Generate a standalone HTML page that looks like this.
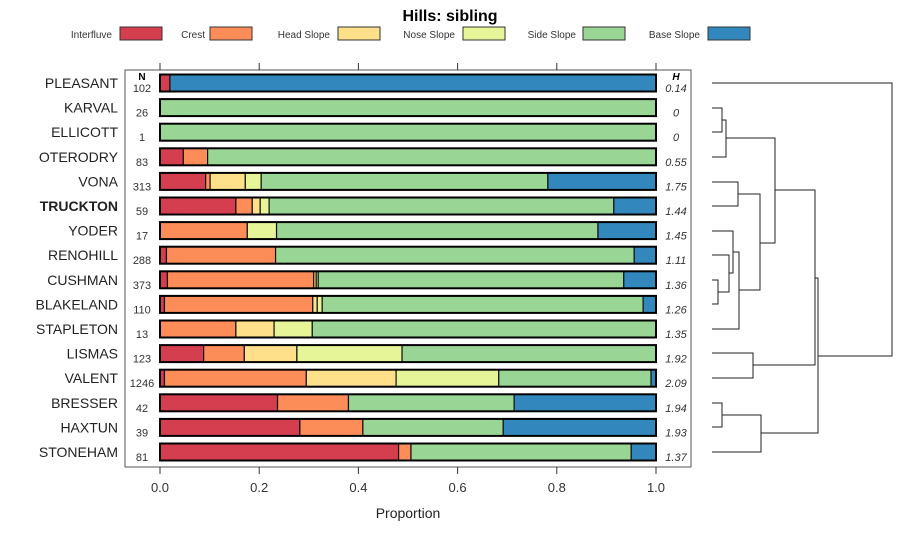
<!DOCTYPE html>
<html><head><meta charset="utf-8"><style>
body{margin:0;background:#fff;}
svg{display:block;font-family:"Liberation Sans",sans-serif;}
</style></head><body>
<svg id="c" width="900" height="540"></svg>
<script>
const classes=["Interfluve","Crest","Head Slope","Nose Slope","Side Slope","Base Slope"];
const colors=["#D53E4F","#FC8D59","#FEE08B","#E6F598","#99D594","#3288BD"];
const sites=["PLEASANT","KARVAL","ELLICOTT","OTERODRY","VONA","TRUCKTON","YODER","RENOHILL","CUSHMAN","BLAKELAND","STAPLETON","LISMAS","VALENT","BRESSER","HAXTUN","STONEHAM"];
const counts=[102,26,1,83,313,59,17,288,373,110,13,123,1246,42,39,81];
const entropy=["0.14","0","0","0.55","1.75","1.44","1.45","1.11","1.36","1.26","1.35","1.92","2.09","1.94","1.93","1.37"];
const props=[
[0.02,0,0,0,0,0.98],
[0,0,0,0,1,0],
[0,0,0,0,1,0],
[0.047,0.049,0,0,0.904,0],
[0.092,0.009,0.071,0.032,0.578,0.218],
[0.153,0.033,0.016,0.018,0.695,0.085],
[0,0.176,0,0.059,0.648,0.117],
[0.013,0.22,0,0,0.723,0.044],
[0.015,0.295,0.005,0.004,0.616,0.065],
[0.009,0.299,0.009,0.01,0.647,0.026],
[0,0.153,0.077,0.077,0.693,0],
[0.088,0.082,0.106,0.212,0.512,0],
[0.009,0.286,0.181,0.207,0.307,0.01],
[0.237,0.143,0,0,0.334,0.286],
[0.282,0.127,0,0,0.283,0.308],
[0.481,0.025,0,0,0.444,0.05]];
const xticks=[0,0.2,0.4,0.6,0.8,1.0];
const NS="http://www.w3.org/2000/svg";
const svg=document.getElementById("c");
function el(t,a,txt){const e=document.createElementNS(NS,t);for(const k in a)e.setAttribute(k,a[k]);if(txt!==undefined)e.textContent=txt;svg.appendChild(e);return e;}
const x=v=>160+v*496;
const y=i=>83+i*24.6;
let e;
e=el("text",{x:450,y:21,"text-anchor":"middle","font-size":16,"font-weight":"bold"},"Hills: sibling");


const lx=[[112,120],[205,210],[330,338],[455,463],[576,583],[700,708]];
classes.forEach((c,k)=>{
 e=el("text",{x:lx[k][0],y:38,"text-anchor":"end","font-size":10,fill:"#333"},c);
 
 
 e=el("rect",{x:lx[k][1],y:27,width:42,height:13,fill:colors[k],stroke:"#333","stroke-width":1});
 
 
});
e=el("rect",{x:125,y:70,width:566,height:397,fill:"none",stroke:"#555","stroke-width":1});


xticks.forEach(t=>{
 e=el("line",{x1:x(t),x2:x(t),y1:467,y2:474,stroke:"#333"});
 
 
 el("line",{x1:x(t),x2:x(t),y1:63,y2:70,stroke:"#333"});
 e=el("text",{x:x(t),y:492,"text-anchor":"middle","font-size":13,fill:"#333"},t.toFixed(1));
 
 
});
e=el("text",{x:408,y:518,"text-anchor":"middle","font-size":14,fill:"#222"},"Proportion");


el("text",{x:142,y:80,"text-anchor":"middle","font-size":10,"font-weight":"bold"},"N");
el("text",{x:676,y:80,"text-anchor":"middle","font-size":10,"font-weight":"bold","font-style":"italic"},"H");
sites.forEach((s,i)=>{
 const cy=y(i);
 e=el("text",{x:118,y:cy+5,"text-anchor":"end","font-size":14,"font-weight":s==="TRUCKTON"?"bold":"normal",fill:"#222"},s);
 
 
 e=el("text",{x:142,y:cy+9,"text-anchor":"middle","font-size":11,fill:"#333"},counts[i]);
 
 
 e=el("text",{x:676,y:cy+9,"text-anchor":"middle","font-size":11,"font-style":"italic",fill:"#333"},entropy[i]);
 
 
 let acc=0;
 props[i].forEach((p,k)=>{
  if(p<=0)return;
  e=el("rect",{x:x(acc),y:cy-8.5,width:x(acc+p)-x(acc),height:17,fill:colors[k],stroke:"#111","stroke-width":1.2});
  
  
  acc+=p;
 });
 el("rect",{x:x(0),y:cy-8.5,width:x(1)-x(0),height:17,fill:"none",stroke:"#000","stroke-width":2});
});
// dendrogram
const dend=[[712,108,712,132,722],[722,120,712,157,726],[712,182,712,206,738],[712,280,712,304,718],[712,255,718,292,729],[712,231,729,273,733],[733,252,712,329,739],[738,194,739,290,760],[726,138,760,243,775],[712,353,712,378,753],[712,403,712,427,722],[722,415,712,452,761],[775,190,753,365,815],[761,433,815,278,818],[712,83,818,356,892]];
dend.forEach(d=>{
 const [x1,y1,x2,y2,xm]=d;
 e=el("path",{d:`M${x1},${y1}H${xm}V${y2}H${x2}`,fill:"none",stroke:"#222","stroke-width":1});
 
 
});
</script>
</body></html>
